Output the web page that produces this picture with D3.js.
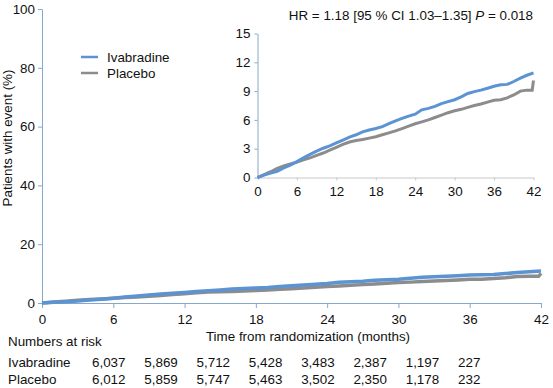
<!DOCTYPE html>
<html>
<head>
<meta charset="utf-8">
<script src="https://cdn.jsdelivr.net/npm/d3@7"></script>
<style>
  body { margin: 0; background: #fff; }
  svg { display: block; font-family: "Liberation Sans", Arial, sans-serif; }
</style>
</head>
<body>
<svg id="chart" width="553" height="388"></svg>
<script>
// months since randomization
const months = d3.range(0, 43);
// cumulative % with event
const ivabradine = [0, 0.25, 0.45, 0.65, 1.0, 1.3, 1.65, 2.05, 2.4, 2.75, 3.05, 3.3, 3.6, 3.9, 4.2, 4.45, 4.75, 4.95, 5.1, 5.3,
  5.6, 5.9, 6.15, 6.4, 6.6, 7.05, 7.2, 7.4, 7.7, 7.9, 8.1, 8.4, 8.75, 8.95, 9.1, 9.3, 9.5, 9.65, 9.7, 10.0, 10.35, 10.65, 10.9];
const placebo = [0, 0.3, 0.6, 0.95, 1.2, 1.4, 1.6, 1.85, 2.05, 2.3, 2.55, 2.85, 3.15, 3.45, 3.7, 3.85, 3.95, 4.1, 4.25, 4.45,
  4.65, 4.85, 5.1, 5.35, 5.6, 5.8, 6.0, 6.25, 6.5, 6.75, 6.95, 7.1, 7.3, 7.5, 7.65, 7.85, 8.05, 8.1, 8.3, 8.6, 9.0, 9.1, 9.1];
const placeboEndX = [41.8, 42];
const placeboEndY = [9.1, 10.1];

const riskTimes = [0, 6, 12, 18, 24, 30, 36, 42];
const riskIvabradine = ['6,037', '5,869', '5,712', '5,428', '3,483', '2,387', '1,197', '227'];
const riskPlacebo = ['6,012', '5,859', '5,747', '5,463', '3,502', '2,350', '1,178', '232'];

const mainYTicks = [0, 20, 40, 60, 80, 100];
const insetYTicks = [0, 3, 6, 9, 12, 15];
const xTicks = [0, 6, 12, 18, 24, 30, 36, 42];

const blue = '#5b93d3', grey = '#8c8c8c', axisBlue = '#86a8c9';
const fs = '13.4px';

const svg = d3.select('#chart');

function series(vals, extraX, extraY) {
    let pts = months.slice(0, vals.length).map((m, i) => [m, vals[i]]);
    if (extraX) {
        pts = pts.filter(p => p[0] < extraX[0]);
        extraX.forEach((x, i) => pts.push([x, extraY[i]]));
    }
    return pts;
}
const ivaPts = series(ivabradine);
const plaPts = series(placebo.slice(0, 42), placeboEndX, placeboEndY);

// main chart
const x = d3.scaleLinear().domain([0, 42]).range([42, 541]);
const y = d3.scaleLinear().domain([0, 100]).range([303, 9]);

const xAxis = svg.append('g')
    .attr('transform', `translate(0,${y(0)})`)
    .call(d3.axisBottom(x).tickValues(xTicks).tickSizeInner(5).tickSizeOuter(0).tickPadding(6));
const yAxis = svg.append('g')
    .attr('transform', `translate(${x(0)},0)`)
    .call(d3.axisLeft(y).tickValues(mainYTicks).tickSizeInner(4).tickSizeOuter(0).tickPadding(3));
[xAxis, yAxis].forEach(a => {
    a.selectAll('path, line').attr('stroke', axisBlue);
    a.selectAll('text').attr('fill', '#111').style('font-size', fs).style('font-family', '"Liberation Sans", Arial, sans-serif');
});

const line = d3.line().x(d => x(d[0])).y(d => y(d[1]));
svg.append('path').datum(plaPts).attr('d', line).attr('fill', 'none').attr('stroke', grey).attr('stroke-width', 3.5);
svg.append('path').datum(ivaPts).attr('d', line).attr('fill', 'none').attr('stroke', blue).attr('stroke-width', 3.5);

svg.append('text')
    .attr('transform', `translate(12,${(y(100) + y(0)) / 2 - 18}) rotate(-90)`)
    .attr('text-anchor', 'middle')
    .style('font-size', fs)
    .attr('fill', '#111')
    .text('Patients with event (%)');

svg.append('text')
    .attr('x', 308).attr('y', 341)
    .attr('text-anchor', 'middle')
    .style('font-size', fs)
    .attr('fill', '#111')
    .text('Time from randomization (months)');

// legend
const legend = [['Ivabradine', blue], ['Placebo', grey]];
const lg = svg.append('g');
legend.forEach((d, i) => {
    lg.append('line').attr('x1', 81).attr('x2', 98).attr('y1', 57 + i * 16).attr('y2', 57 + i * 16)
        .attr('stroke', d[1]).attr('stroke-width', 2.5);
    lg.append('text').attr('x', 107).attr('y', 57 + i * 16).attr('dy', '0.35em')
        .style('font-size', fs).attr('fill', '#111').text(d[0]);
});

// inset
const xi = d3.scaleLinear().domain([0, 42]).range([257.5, 533.5]);
const yi = d3.scaleLinear().domain([0, 15]).range([177.5, 33.5]);

const xiAxis = svg.append('g')
    .attr('transform', `translate(0,${yi(0)})`)
    .call(d3.axisBottom(xi).tickValues(xTicks).tickSizeInner(3).tickSizeOuter(0).tickPadding(6));
xiAxis.selectAll('path, line').attr('stroke', '#c8c8c8');
const yiAxis = svg.append('g')
    .attr('transform', `translate(${xi(0)},0)`)
    .call(d3.axisLeft(yi).tickValues(insetYTicks).tickSizeInner(3).tickSizeOuter(0).tickPadding(4));
yiAxis.selectAll('path, line').attr('stroke', axisBlue);
[xiAxis, yiAxis].forEach(a => {
    a.selectAll('text').attr('fill', '#111').style('font-size', fs).style('font-family', '"Liberation Sans", Arial, sans-serif');
});

const lineI = d3.line().x(d => xi(d[0])).y(d => yi(d[1]));
svg.append('path').datum(plaPts).attr('d', lineI).attr('fill', 'none').attr('stroke', grey).attr('stroke-width', 3);
svg.append('path').datum(ivaPts).attr('d', lineI).attr('fill', 'none').attr('stroke', blue).attr('stroke-width', 3);

const hr = svg.append('text').attr('x', 533).attr('y', 20).attr('text-anchor', 'end')
    .style('font-size', fs).attr('fill', '#111');
hr.append('tspan').text('HR = 1.18 [95 % CI 1.03–1.35] ');
hr.append('tspan').style('font-style', 'italic').text('P');
hr.append('tspan').text(' = 0.018');

// numbers at risk
svg.append('text').attr('x', 8).attr('y', 346).style('font-size', fs).attr('fill', '#111').text('Numbers at risk');
const riskX = d3.scaleLinear().domain([0, 42]).range([92, 458]);
[['Ivabradine', riskIvabradine, 367], ['Placebo', riskPlacebo, 384]].forEach(r => {
    svg.append('text').attr('x', 8).attr('y', r[2]).style('font-size', fs).attr('fill', '#111').text(r[0]);
    svg.append('g').selectAll('text').data(r[1]).join('text')
        .attr('x', (d, i) => riskX(riskTimes[i])).attr('y', r[2])
        .style('font-size', fs).attr('fill', '#111').text(d => d);
});
</script>
</body>
</html>
